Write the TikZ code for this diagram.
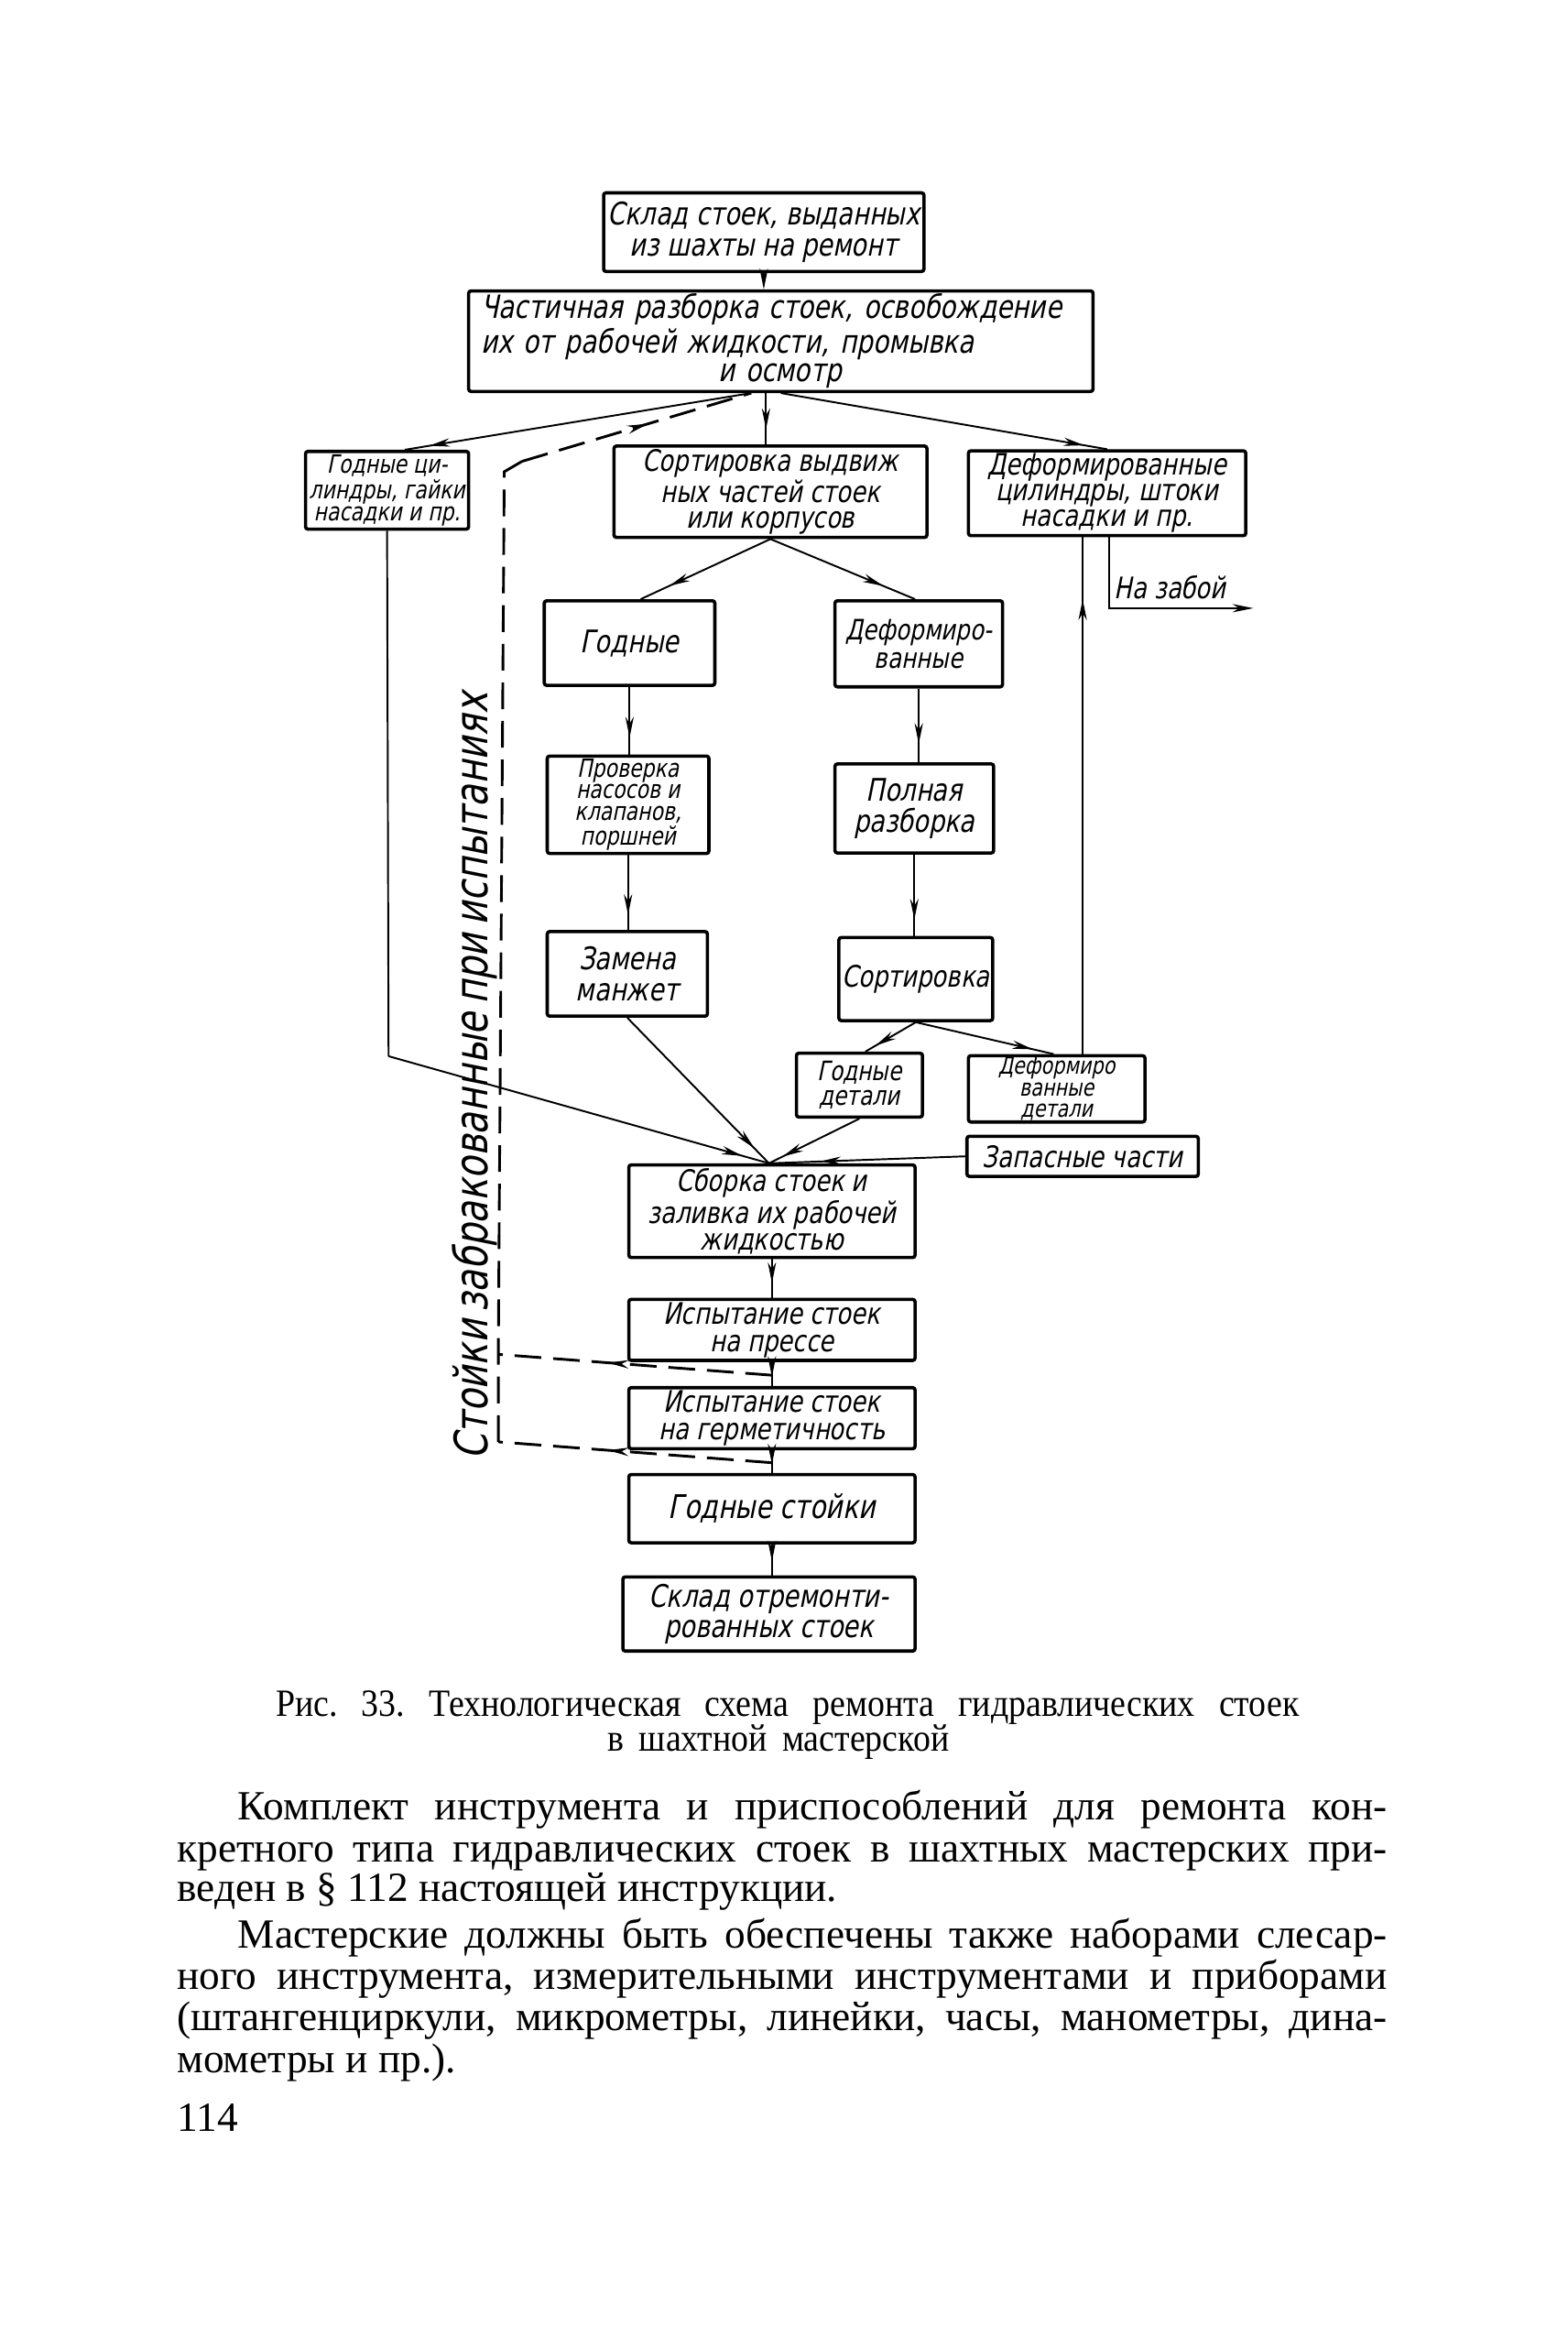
\documentclass[tikz,border=0pt]{standalone}
\usepackage{fontspec}
\setmainfont{Liberation Serif}
\newfontfamily\hand[FakeSlant=0.2,FakeStretch=0.8]{DejaVu Sans}
\newfontfamily\capfont[FakeStretch=0.9]{Liberation Serif}
\usetikzlibrary{arrows.meta,decorations.markings,calc}
\tikzset{
  box/.style={draw, line width=1.1pt, rounded corners=0.8pt, inner sep=1pt, align=center,
    font=\hand\fontsize{10.5}{10.5}\selectfont},
  conn/.style={line width=0.6pt},
  tip/.style={-{Stealth[length=7pt,width=2.8pt]}},
  am/.style={postaction={decorate},decoration={markings,
    mark=at position #1 with {\arrow{Stealth[length=7pt,width=2.8pt]}}}},
  dsh/.style={line width=0.9pt, dash pattern=on 9pt off 4pt},
  bodyline/.style={anchor=base west, inner sep=0pt, font=\frenchspacing\fontsize{14}{14}\selectfont},
  capline/.style={anchor=base, inner sep=0pt, font=\frenchspacing\capfont\fontsize{13}{14}\selectfont},
}
\begin{document}
\begin{tikzpicture}[x=0.5pt,y=-0.5pt]
\path[use as bounding box, fill=white] (0,0) rectangle (1057,1568);

% boxes
\node[box, minimum width=108pt, minimum height=26.5pt] (A) at (515,156.5)
  {Склад стоек, выданных\\из шахты на ремонт};
\node[box, minimum width=210.5pt, minimum height=32pt, align=left, text width=202pt,
  font=\hand\fontsize{10.8}{9.6}\selectfont] (B) at (526.5,230)
  {Частичная разборка стоек, освобождение\\их от рабочей жидкости, промывка\\\hspace*{80pt}и осмотр};
\node[box, minimum width=55pt, minimum height=25.5pt,
  font=\hand\fontsize{8.5}{7.6}\selectfont] (C) at (261,330.5)
  {Годные ци-\\линдры, гайки\\насадки и пр.};
\node[box, minimum width=105.5pt, minimum height=26.5pt,
  font=\hand\fontsize{10}{8.6}\selectfont] (D) at (519.5,331.5)
  {Сортировка выдвиж\\ных частей стоек\\или корпусов};
\node[box, minimum width=93.5pt, minimum height=27.5pt,
  font=\hand\fontsize{10}{8.6}\selectfont] (E) at (746.5,332.5)
  {Деформированные\\цилиндры, штоки\\насадки и пр.};
\node[box, minimum width=57.5pt, minimum height=28.5pt] (F) at (424.5,433.5) {Годные};
\node[box, minimum width=56.5pt, minimum height=29pt,
  font=\hand\fontsize{9.5}{9.5}\selectfont] (G) at (619.5,434) {Деформиро-\\ванные};
\node[box, minimum width=54.5pt, minimum height=30.5pt,
  font=\hand\fontsize{8.5}{7.2}\selectfont] (H) at (423.5,542.5)
  {Проверка\\насосов и\\клапанов,\\поршней};
\node[box, minimum width=53.5pt, minimum height=30pt] (I) at (616.5,545) {Полная\\разборка};
\node[box, minimum width=54pt, minimum height=28.5pt] (J) at (423,656.5) {Замена\\манжет};
\node[box, minimum width=50.5pt, minimum height=28pt,
  font=\hand\fontsize{10}{10}\selectfont] (K) at (617.5,660) {Сортировка};
\node[box, minimum width=42.5pt, minimum height=21.5pt,
  font=\hand\fontsize{9}{8.5}\selectfont] (L) at (579.5,731.5) {Годные\\детали};
\node[box, minimum width=59.5pt, minimum height=22pt, inner sep=0.5pt,
  font=\hand\fontsize{8}{7.2}\selectfont] (M) at (712.5,734) {Деформиро\\ванные\\детали};
\node[box, minimum width=78pt, minimum height=13.5pt,
  font=\hand\fontsize{10}{10}\selectfont] (N) at (730,779.5) {Запасные части};
\node[box, minimum width=96.5pt, minimum height=30.5pt,
  font=\hand\fontsize{10}{9.2}\selectfont] (O) at (520.5,816.5)
  {Сборка стоек и\\заливка их рабочей\\жидкостью};
\node[box, minimum width=96.5pt, minimum height=20.5pt,
  font=\hand\fontsize{10}{9.2}\selectfont] (P) at (520.5,896.5)
  {Испытание стоек\\на прессе};
\node[box, minimum width=96.5pt, minimum height=20pt,
  font=\hand\fontsize{10}{9.2}\selectfont] (Q) at (520.5,956)
  {Испытание стоек\\на герметичность};
\node[box, minimum width=96.5pt, minimum height=23pt,
  font=\hand\fontsize{11}{11}\selectfont] (R) at (520.5,1017) {Годные стойки};
\node[box, minimum width=98.5pt, minimum height=25pt,
  font=\hand\fontsize{10.5}{10}\selectfont] (S) at (518.5,1088)
  {Склад отремонти-\\рованных стоек};

% connectors
\draw[conn,tip] (A.south) -- (A.south |- B.north);
\coordinate (bL) at ([xshift=-10pt]B.south);
\draw[conn,am=0.93] (bL) -- ([xshift=6pt]C.north);
\draw[conn,am=0.7] ([xshift=-5pt]B.south) -- ([xshift=-5pt]B.south |- D.north);
\draw[conn,am=0.93] (B.south) -- (E.north);

\draw[conn,am=0.78] (D.south) -- ([xshift=3.75pt]F.north);
\draw[conn,am=0.78] (D.south) -- ([xshift=-1.25pt]G.north);
\draw[conn,am=0.75] (F.south) -- (F.south |- H.north);
\draw[conn,am=0.8] (H.south) -- (H.south |- J.north);
\draw[conn,am=0.75] (G.south) -- (G.south |- I.north);
\draw[conn,am=0.8] (I.south) -- (I.south |- K.north);
\draw[conn,am=0.8] (K.south) -- ([xshift=2pt]L.north);
\draw[conn,am=0.85] (K.south) -- ([xshift=-1pt]M.north);

\coordinate (Oin) at ([xshift=-1pt]O.north);
\coordinate (cBend) at (262,712);
\draw[conn] (C.south) -- (cBend);
\draw[conn,am=0.93] (cBend) -- (Oin);
\draw[conn,am=0.9] (J.south) -- (Oin);
\draw[conn,am=0.85] (L.south) -- (Oin);
\draw[conn,am=0.74] (N.west) -- (Oin);

\draw[conn,am=0.88] ([xshift=8.75pt]M.north) -- ([xshift=8.75pt]M.north |- E.south);
\coordinate (Es) at ([xshift=0.75pt]E.south);
\coordinate (zEnd) at (845,410);
\draw[conn,tip] (Es) -- (Es |- zEnd) -- (zEnd);
\node[font=\hand\fontsize{10}{10}\selectfont, inner sep=0pt] (zab) at (789,396) {На забой};

\draw[conn,am=0.62] (O.south) -- (P.north);
\draw[conn,am=0.62] (P.south) -- (Q.north);
\draw[conn,am=0.62] (Q.south) -- (R.north);
\draw[conn,am=0.55] (R.south) -- (R.south |- S.north);

% dashed return path
\coordinate (pq) at ($(P.south)!0.55!(Q.north)$);
\coordinate (qr) at ($(Q.south)!0.55!(R.north)$);
\coordinate (dLow) at (336,913);
\coordinate (dBot) at (336,972);
\coordinate (dCorner) at (340,318);
\coordinate (dTop) at (352,311);
\draw[dsh,am=0.6] (pq) -- (dLow);
\draw[dsh,am=0.6] (qr) -- (dBot);
\draw[dsh] (dBot) -- (dLow) -- (dCorner) -- (dTop);
\draw[dsh,am=0.55] (dTop) -- (bL);

\node[rotate=90, inner sep=0pt, font=\hand\fontsize{15.5}{15}\selectfont] (vt) at (320,727)
  {\makebox[257pt][s]{Стойки забракованные при испытаниях}};

% caption
\node[capline] (cap1) at (531,1157)
  {\makebox[345pt][s]{Рис. 33. Технологическая схема ремонта гидравлических стоек}};
\node[capline] (cap2) at (525,1180.5)
  {\makebox[115pt][s]{в шахтной мастерской}};

% body text
\node[bodyline] (t1) at (160,1227) {\makebox[387.5pt][s]{Комплект инструмента и приспособлений для ремонта кон-}};
\node[bodyline] (t2) at (119,1255) {\makebox[408pt][s]{кретного типа гидравлических стоек в шахтных мастерских при-}};
\node[bodyline] (t3) at (119,1282) {веден в § 112 настоящей инструкции.};
\node[bodyline] (t4) at (160,1313) {\makebox[387.5pt][s]{Мастерские должны быть обеспечены также наборами слесар-}};
\node[bodyline] (t5) at (119,1341) {\makebox[408pt][s]{ного инструмента, измерительными инструментами и приборами}};
\node[bodyline] (t6) at (119,1369) {\makebox[408pt][s]{(штангенциркули, микрометры, линейки, часы, манометры, дина-}};
\node[bodyline] (t7) at (119,1397) {мометры и пр.).};
\node[bodyline] (pg) at (119,1437) {114};
\end{tikzpicture}
\end{document}
